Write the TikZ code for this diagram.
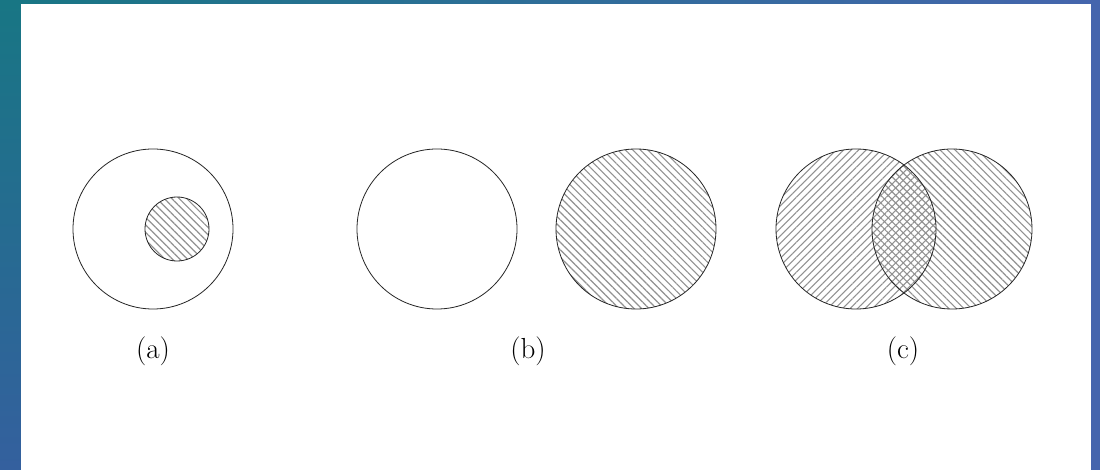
\documentclass[tikz,border=0pt]{standalone}
\usetikzlibrary{patterns.meta}
\definecolor{teal1}{RGB}{24,118,132}
\definecolor{blue1}{RGB}{69,101,173}
\definecolor{blue2}{RGB}{52,96,158}
\definecolor{hatch}{RGB}{145,145,145}
\tikzset{
  ring/.style={draw=black!85, line width=0.8pt},
  hatchne/.style={pattern={Lines[angle=45,distance=5.3pt,line width=1.1pt]}, pattern color=hatch},
  hatchnw/.style={pattern={Lines[angle=-45,distance=5.3pt,line width=1.1pt]}, pattern color=hatch},
  lab/.style={font=\fontsize{29}{35}\selectfont, inner sep=0pt}
}
\begin{document}
\begin{tikzpicture}[x=1pt,y=1pt]
\useasboundingbox (0,0) rectangle (1100,469);
% background
\shade[left color=teal1, right color=blue1] (0,0) rectangle (1100,469);
\shade[top color=teal1, bottom color=blue2] (0,0) rectangle (21,469);
\fill[white] (21,-2) rectangle (1091,465);
% (a)
\path[hatchnw] (177,240) circle[radius=32];
\node[ring, circle, minimum size=160pt, inner sep=0pt] (a1) at (153,240) {};
\node[ring, circle, minimum size=64pt, inner sep=0pt] (a2) at (177,240) {};
\node[lab] (la) at (153,118) {(a)};
% (b)
\node[ring, circle, minimum size=160pt, inner sep=0pt] (b1) at (437,240) {};
\path[hatchnw] (636,240) circle[radius=80];
\node[ring, circle, minimum size=160pt, inner sep=0pt] (b2) at (636,240) {};
\node[lab] (lb) at (528,118) {(b)};
% (c)
\path[hatchne] (856,240) circle[radius=80];
\path[hatchnw] (952,240) circle[radius=80];
\node[ring, circle, minimum size=160pt, inner sep=0pt] (c1) at (856,240) {};
\node[ring, circle, minimum size=160pt, inner sep=0pt] (c2) at (952,240) {};
\node[lab] (lc) at (903,118) {(c)};
\end{tikzpicture}
\end{document}
